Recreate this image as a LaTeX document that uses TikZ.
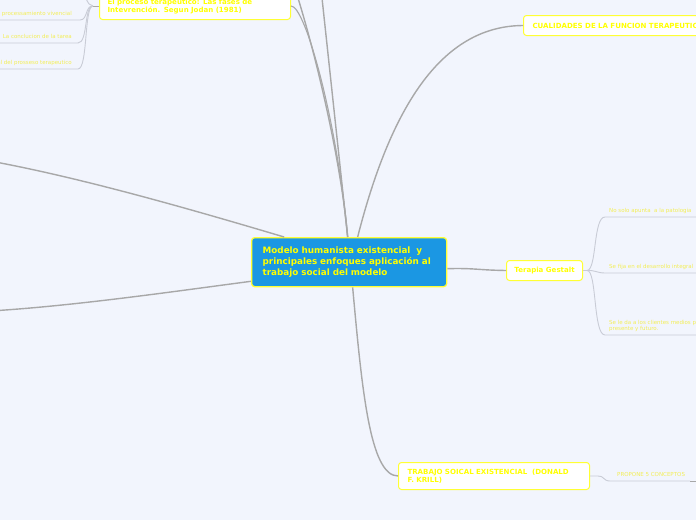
\documentclass[tikz,border=0pt]{standalone}
\usepackage{fontspec}
\setmainfont{DejaVu Sans}
\usetikzlibrary{positioning}
\definecolor{canvas}{HTML}{F2F5FD}
\definecolor{centreblue}{HTML}{1B97E3}
\definecolor{frameyellow}{HTML}{FFFF33}
\definecolor{labelyellow}{HTML}{FFFF00}
\definecolor{leafyellow}{HTML}{F3EE55}
\definecolor{branchgray}{HTML}{A8A8A8}
\definecolor{leafgray}{HTML}{C9CCD6}
\tikzset{branch/.style={draw=branchgray, line width=1.4pt},
	twig/.style={draw=leafgray, line width=0.9pt}
}
\tikzstyle{central_topic} = [draw=frameyellow, line width=1.3pt, fill=centreblue, rounded corners=3pt, text=labelyellow, font=\fontsize{8.8}{11}\selectfont\bfseries, align=left, anchor=north west, minimum height=49pt, text width=173pt, inner xsep=11pt]
\tikzstyle{main_topic} = [draw=frameyellow, line width=1pt, fill=white, rounded corners=3pt, text=labelyellow, font=\fontsize{7.05}{8}\selectfont\bfseries, anchor=north west]
\tikzstyle{leaf_topic} = [text=leafyellow, font=\fontsize{5.5}{6}\selectfont, inner xsep=4pt, inner ysep=2pt, text height=4.5pt, text depth=2pt]

\begin{document}
\begin{tikzpicture}[x=1pt, y=-1pt]
			\useasboundingbox (0,0) rectangle (696,520);
			\fill[canvas] (0,0) rectangle (696,520);
			\node[central_topic] (modelo) at (251,237) {Modelo humanista existencial\ \ y\\principales enfoques aplicación al\\trabajo social del modelo};
			\node[main_topic, minimum width=191pt, minimum height=27pt, text width=175pt, inner xsep=8pt, align=left] (fases) at (99,-8) {El proceso terapeútico: Las fases de\\Intevrención. Segun Jodan (1981)};
			\node[main_topic, minimum height=20pt, text width=200pt, inner xsep=9pt, align=left] (cualidades) at (523,15) {CUALIDADES DE LA FUNCION TERAPEUTIC};
			\node[main_topic, minimum width=76pt, minimum height=20pt] (gestalt) at (506,260) {Terapia Gestalt};
			\node[main_topic, minimum width=191pt, minimum height=27pt, text width=173pt, inner xsep=9pt, align=left] (trabajo) at (398,462) {TRABAJO SOICAL EXISTENCIAL\ \ (DONALD\\F. KRILL)};
			
			% leaves
			\node[leaf_topic, anchor=south east, inner xsep=8pt] (vivencial) at (80,20) {al processamiento vivencial};
			\node[leaf_topic, anchor=south east, inner xsep=6pt] (tarea) at (78,43) {La conclucion de la tarea};
			\node[leaf_topic, anchor=south east, inner xsep=6pt] (terapeutico) at (78,69) {al del prosseso terapeutico};
			\node[leaf_topic, anchor=south west] (patologia) at (605,217) {No solo apunta\ \ a la patologia};
			\node[leaf_topic, anchor=south west] (desarrollo) at (605,273) {Se fija en el desarrollo integral};
			\node[leaf_topic, anchor=south west] (clientes) at (605,335) {\vbox{\baselineskip=6pt\hbox{Se le da a los clientes medios p}\hbox{presente y futuro.}}};
			\node[leaf_topic, anchor=south west, inner xsep=7pt] (conceptos) at (610,481) {PROPONE 5 CONCEPTOS};
			
			% off page ends
			\coordinate (upleaf) at (78,-9);
			\coordinate (upA) at (298,-2);
			\coordinate (upB) at (322,-2);
			\coordinate (leftA) at (-2,162.5);
			\coordinate (leftB) at (-2,310.5);
			\coordinate (rightC) at (700,481);
			
			% draw lines
			\draw[branch] ([xshift=-1.5pt]modelo.north) -- (upB);
			\draw[branch] ([xshift=-1.5pt]modelo.north) .. controls (342,170) and (320,70) .. (upA);
			\draw[branch, line width=1.1pt] ([xshift=-1.5pt]modelo.north) .. controls (337,120) and (305,5) .. (fases.east);
			\draw[branch] ([xshift=8.5pt]modelo.north) .. controls (390,110) and (440,26) .. (cualidades.west);
			\draw[branch] ([yshift=-6.5pt]modelo.east) .. controls (476,268) and (476,270) .. (gestalt.west);
			\draw[branch] ([xshift=3.5pt]modelo.south) .. controls (362,390) and (370,476) .. (trabajo.west);
			\draw[branch] ([xshift=-65pt]modelo.north) .. controls (200,212) and (90,180) .. (leftA);
			\draw[branch] ([yshift=6pt]modelo.south west) .. controls (170,292) and (80,305) .. (leftB);
			
			\draw[branch, line width=1pt] (fases.west) -- ++(-6,0) coordinate (fasesfork);
			\draw[twig] (fasesfork) .. controls (86,5.5) and (88,-5) .. (upleaf);
			\draw[twig] (fasesfork) .. controls (85,5.5) and (88,20) .. (vivencial.south east) -- ++(-85,0);
			\draw[twig] (fasesfork) .. controls (84,5.5) and (88,43) .. (tarea.south east) -- ++(-85,0);
			\draw[twig] (fasesfork) .. controls (84,5.5) and (88,69) .. (terapeutico.south east) -- ++(-85,0);
			
			\draw[twig] (gestalt.east) -- ++(4,0) .. controls (597,270) and (593,217) .. (patologia.south west) -- ++(95,0);
			\draw[twig] (gestalt.east) -- ++(4,0) .. controls (595,270) and (597,273) .. (desarrollo.south west) -- ++(95,0);
			\draw[twig] (gestalt.east) -- ++(4,0) .. controls (597,270) and (593,335) .. (clientes.south west) -- ++(95,0);
			
			\draw[twig] (trabajo.east) -- ++(8,0) .. controls (604,475.5) and (603,481) .. (conceptos.south west) -- ++(80,0) coordinate (conceptosend);
			\draw[branch, line width=1pt] (conceptosend) -- (rightC);
\end{tikzpicture}
\end{document}
